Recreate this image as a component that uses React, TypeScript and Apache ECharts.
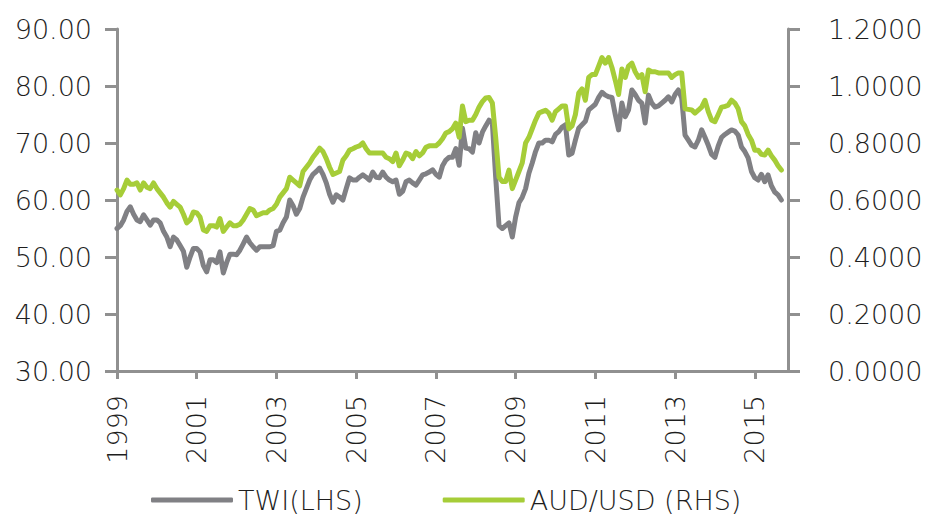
import React, { useEffect, useRef } from "react";
import * as echarts from "echarts";

// Monthly categories, Jan 1999 .. Nov 2015
const startYear = 1999;
const endYear = 2015;
const endMonth = 11;
const categories: string[] = [];
for (let y = startYear; y <= endYear; y++) {
  for (let m = 1; m <= 12; m++) {
    if (y === endYear && m > endMonth) break;
    categories.push(`${y}-${m < 10 ? "0" + m : m}`);
  }
}

const seriesNames = ["TWI(LHS)", "AUD/USD (RHS)"];

// Trade-weighted index (left axis), Jan 1999 .. Sep 2015
const twi: number[] = [
  // 1999
  55.0, 55.5, 56.5, 58.0, 58.8, 57.5, 56.5, 56.2, 57.4, 56.5, 55.6, 56.5,
  // 2000
  56.5, 56.0, 54.5, 53.5, 51.8, 53.5, 53.0, 52.0, 51.0, 48.2, 50.0, 51.5,
  // 2001
  51.5, 50.9, 48.5, 47.4, 49.5, 49.5, 49.0, 50.9, 47.2, 49.0, 50.5, 50.5,
  // 2002
  50.4, 51.2, 52.3, 53.5, 52.5, 51.8, 51.2, 51.8, 51.8, 51.8, 51.8, 52.0,
  // 2003
  54.5, 54.7, 56.0, 57.0, 60.0, 59.0, 57.5, 58.5, 60.5, 62.0, 63.5, 64.5,
  // 2004
  65.0, 65.6, 64.5, 63.0, 61.0, 59.6, 60.9, 60.5, 60.0, 62.0, 63.9, 63.5,
  // 2005
  63.5, 64.0, 64.4, 64.0, 63.5, 64.9, 64.0, 63.9, 64.9, 64.0, 63.5, 63.2,
  // 2006
  63.5, 61.0, 61.5, 63.2, 63.5, 63.0, 62.6, 63.5, 64.4, 64.6, 64.9, 65.3,
  // 2007
  64.5, 64.0, 66.0, 67.0, 67.5, 67.5, 69.0, 66.1, 72.6, 69.1, 69.0, 68.4,
  // 2008
  71.8, 70.0, 71.9, 73.0, 74.0, 73.5, 64.0, 55.5, 55.0, 55.5, 56.0, 53.5,
  // 2009
  57.0, 59.5, 60.5, 62.0, 64.7, 66.5, 68.5, 70.0, 70.0, 70.5, 70.5, 70.2,
  // 2010
  71.5, 72.0, 72.8, 73.2, 67.9, 68.2, 70.5, 72.6, 73.2, 73.8, 75.8, 76.3,
  // 2011
  76.8, 78.0, 78.9, 78.4, 78.1, 78.0, 75.0, 72.3, 77.0, 74.6, 75.8, 79.3,
  // 2012
  78.5, 77.5, 77.0, 73.5, 78.4, 77.0, 76.3, 76.5, 77.0, 77.5, 78.1, 77.2,
  // 2013
  78.5, 79.3, 77.9, 71.4, 70.5, 69.6, 69.3, 70.5, 72.3, 71.0, 69.6, 68.0,
  // 2014
  67.5, 69.5, 71.0, 71.5, 71.9, 72.3, 72.1, 71.4, 69.3, 68.5, 67.4, 65.0,
  // 2015
  63.9, 63.5, 64.5, 63.2, 64.4, 62.5, 61.4, 60.9, 60.0,
];

// AUD/USD (right axis), Jan 1999 .. Sep 2015
const audusd: number[] = [
  // 1999
  0.635, 0.618, 0.64, 0.67, 0.655, 0.655, 0.66, 0.635, 0.66, 0.645, 0.64, 0.66,
  // 2000
  0.64, 0.625, 0.61, 0.59, 0.575, 0.595, 0.585, 0.575, 0.55, 0.52, 0.53, 0.558,
  // 2001
  0.555, 0.54, 0.495, 0.49, 0.51, 0.51, 0.505, 0.535, 0.49, 0.505, 0.52, 0.51,
  // 2002
  0.51, 0.515, 0.53, 0.55, 0.57, 0.565, 0.545, 0.55, 0.555, 0.555, 0.565, 0.57,
  // 2003
  0.585, 0.61, 0.625, 0.64, 0.68, 0.67, 0.66, 0.65, 0.70, 0.715, 0.73, 0.75,
  // 2004
  0.765, 0.782, 0.77, 0.745, 0.715, 0.69, 0.695, 0.70, 0.74, 0.755, 0.775, 0.78,
  // 2005
  0.786, 0.79, 0.80, 0.78, 0.765, 0.765, 0.765, 0.765, 0.765, 0.75, 0.745, 0.735,
  // 2006
  0.765, 0.72, 0.74, 0.765, 0.76, 0.745, 0.77, 0.755, 0.765, 0.785, 0.79, 0.79,
  // 2007
  0.79, 0.80, 0.815, 0.835, 0.84, 0.85, 0.87, 0.82, 0.93, 0.875, 0.88, 0.88,
  // 2008
  0.90, 0.926, 0.945, 0.958, 0.96, 0.94, 0.82, 0.68, 0.665, 0.665, 0.705, 0.64,
  // 2009
  0.67, 0.70, 0.73, 0.80, 0.82, 0.85, 0.88, 0.905, 0.91, 0.915, 0.905, 0.88,
  // 2010
  0.91, 0.92, 0.93, 0.93, 0.85, 0.86, 0.90, 0.975, 0.99, 0.95, 1.03, 1.04,
  // 2011
  1.04, 1.07, 1.10, 1.08, 1.10, 1.065, 1.02, 0.97, 1.06, 1.03, 1.07, 1.08,
  // 2012
  1.05, 1.03, 1.04, 0.98, 1.056, 1.05, 1.05, 1.046, 1.046, 1.046, 1.046, 1.03,
  // 2013
  1.04, 1.046, 1.046, 0.92, 0.918, 0.916, 0.905, 0.915, 0.926, 0.95, 0.91, 0.88,
  // 2014
  0.875, 0.90, 0.926, 0.928, 0.933, 0.95, 0.94, 0.92, 0.875, 0.86, 0.83, 0.81,
  // 2015
  0.775, 0.775, 0.76, 0.758, 0.775, 0.755, 0.74, 0.72, 0.705,
];

const FONT = "'DejaVu Sans', 'Liberation Sans', sans-serif";
const AXIS_COLOR = "#909090";
const TEXT_COLOR = "#1e1e1e";
const GRAY = "#808084";
const GREEN = "#a6cd38";

const showYear = (i: number) => i % 24 === 0;

export default function App() {
  const ref = useRef<HTMLDivElement>(null);

  useEffect(() => {
    if (!ref.current) return;
    const chart = echarts.init(ref.current, undefined, { renderer: "svg" });
    const axisLine = { show: true, lineStyle: { color: AXIS_COLOR, width: 3 } };
    const labelBase = {
      color: TEXT_COLOR,
      fontFamily: FONT,
      fontWeight: 300 as any,
      fontSize: 27,
    };
    chart.setOption({
      animation: false,
      grid: { left: 117, right: 139, top: 29, bottom: 149, containLabel: false },
      legend: {
        left: 151,
        top: 485,
        padding: 0,
        itemWidth: 82,
        itemHeight: 5,
        itemGap: 80,
        icon: "roundRect",
        data: seriesNames,
        textStyle: { ...labelBase, fontSize: 27, lineHeight: 30 },
      },
      xAxis: {
        type: "category",
        data: categories,
        boundaryGap: false,
        axisLine,
        axisTick: {
          show: true,
          interval: (i: number) => showYear(i),
          length: 8,
          lineStyle: { color: AXIS_COLOR, width: 3 },
        },
        axisLabel: {
          ...labelBase,
          interval: (i: number) => showYear(i),
          formatter: (v: string) => v.slice(0, 4),
          rotate: 90,
          margin: 24,
        },
        splitLine: { show: false },
      },
      yAxis: [
        {
          type: "value",
          position: "left",
          min: 30,
          max: 90,
          interval: 10,
          axisLine,
          axisTick: { show: true, length: 12, lineStyle: { color: AXIS_COLOR, width: 3 } },
          axisLabel: { ...labelBase, margin: 25, formatter: (v: number) => v.toFixed(2) },
          splitLine: { show: false },
        },
        {
          type: "value",
          position: "right",
          min: 0,
          max: 1.2,
          interval: 0.2,
          axisLine,
          axisTick: { show: true, length: 12, lineStyle: { color: AXIS_COLOR, width: 3 } },
          axisLabel: {
            ...labelBase,
            margin: 40,
            formatter: (v: number) => v.toFixed(4),
          },
          splitLine: { show: false },
        },
      ],
      series: [
        {
          name: seriesNames[0],
          type: "line",
          yAxisIndex: 0,
          data: twi,
          showSymbol: false,
          symbol: "none",
          lineStyle: { color: GRAY, width: 5, join: "round", cap: "round" },
          itemStyle: { color: GRAY },
          z: 2,
        },
        {
          name: seriesNames[1],
          type: "line",
          yAxisIndex: 1,
          data: audusd,
          showSymbol: false,
          symbol: "none",
          lineStyle: { color: GREEN, width: 5, join: "round", cap: "round" },
          itemStyle: { color: GREEN },
          z: 3,
        },
      ],
    });
    return () => chart.dispose();
  }, []);

  return (
    <div
      ref={ref}
      style={{ position: "fixed", left: 0, top: 0, width: 927, height: 520, background: "#fff" }}
    />
  );
}
